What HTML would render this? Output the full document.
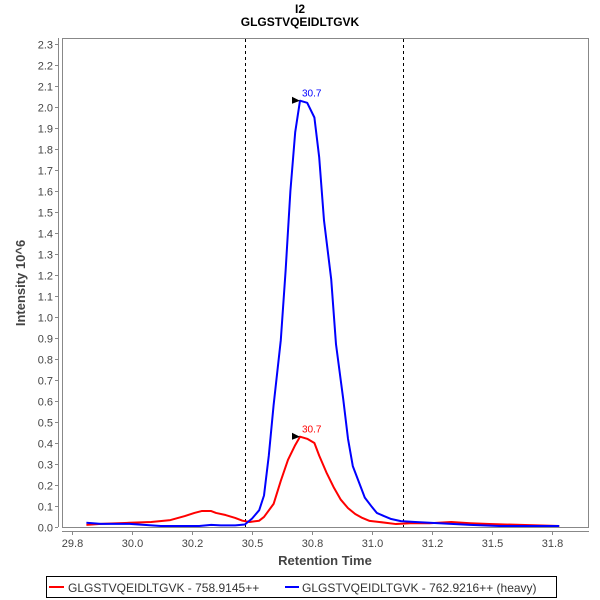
<!DOCTYPE html>
<html><head><meta charset="utf-8"><style>
body{margin:0;background:#fff;font-family:"Liberation Sans","DejaVu Sans",sans-serif}
svg{display:block}
</style></head><body>
<svg id="chart" width="600" height="600" viewBox="0 0 600 600">
<rect width="600" height="600" fill="#fff"/>
<text x="300" y="13" text-anchor="middle" font-size="12" font-weight="bold">I2</text>
<text x="300" y="26" text-anchor="middle" font-size="12" font-weight="bold">GLGSTVQEIDLTGVK</text>
<rect x="62.5" y="38.5" width="526" height="489" fill="#fff" stroke="#888"/>
<g id="axes"></g>
<g id="series"></g>
<text x="325" y="565" text-anchor="middle" font-size="13" font-weight="bold" fill="#444">Retention Time</text>
<text transform="translate(25,283) rotate(-90)" text-anchor="middle" font-size="13" font-weight="bold" fill="#444">Intensity 10^6</text>
<g>
<rect x="46.5" y="576.5" width="510" height="21" fill="#fff" stroke="#000"/>
<g>
<line x1="49" y1="587" x2="64" y2="587" stroke="#f00" stroke-width="2"/>
<text x="68" y="592" font-size="12" fill="#333">GLGSTVQEIDLTGVK - 758.9145++</text></g>
<g>
<line x1="285" y1="587" x2="299" y2="587" stroke="#00f" stroke-width="2"/>
<text x="302" y="592" font-size="12" fill="#333">GLGSTVQEIDLTGVK - 762.9216++ (heavy)</text></g>
</g>
</svg>
<script>
const xTicks=[29.75,30.0,30.25,30.5,30.75,31.0,31.25,31.5,31.75];
const yTicks=[0,0.1,0.2,0.3,0.4,0.5,0.6,0.7,0.8,0.9,1.0,1.1,1.2,1.3,1.4,1.5,1.6,1.7,1.8,1.9,2.0,2.1,2.2,2.3];
const boundaries=[30.47,31.13];
const heavyTimes=[29.81,29.87,29.99,30.12,30.28,30.33,30.37,30.43,30.47,30.50,30.53,30.55,30.57,30.59,30.62,30.64,30.66,30.68,30.70,30.73,30.76,30.78,30.80,30.83,30.85,30.88,30.90,30.92,30.95,30.97,31.00,31.02,31.05,31.08,31.12,31.18,31.24,31.33,31.41,31.53,31.78];
const heavyValues=[0.02,0.015,0.015,0.005,0.005,0.01,0.008,0.008,0.012,0.04,0.08,0.15,0.34,0.58,0.89,1.22,1.6,1.88,2.03,2.02,1.95,1.76,1.46,1.18,0.87,0.61,0.42,0.29,0.2,0.14,0.095,0.067,0.052,0.038,0.028,0.024,0.02,0.015,0.01,0.005,0.005];
const lightTimes=[29.81,29.87,29.99,30.08,30.16,30.22,30.26,30.29,30.33,30.35,30.39,30.43,30.46,30.49,30.53,30.55,30.59,30.62,30.65,30.68,30.70,30.73,30.76,30.78,30.81,30.84,30.87,30.90,30.93,30.96,30.99,31.03,31.10,31.16,31.24,31.33,31.41,31.49,31.62,31.78];
const lightValues=[0.01,0.015,0.02,0.024,0.033,0.052,0.067,0.076,0.076,0.067,0.057,0.043,0.03,0.024,0.03,0.048,0.11,0.22,0.32,0.39,0.43,0.42,0.4,0.34,0.26,0.19,0.13,0.09,0.062,0.043,0.029,0.024,0.014,0.018,0.018,0.024,0.018,0.014,0.01,0.005];
const peakLabels=["30.7","30.7"];
const NS="http://www.w3.org/2000/svg";
const X=t=>132+(t-30.0)*240;
const Y=v=>527-v*210;
function halfEven(v){const s=v*10,f=Math.floor(s),d=s-f;let r;if(Math.abs(d-0.5)<1e-9)r=(f%2===0)?f:f+1;else r=Math.round(s);return (r/10).toFixed(1);}
function mk(tag,attrs,parent){const e=document.createElementNS(NS,tag);for(const k in attrs)e.setAttribute(k,attrs[k]);parent.appendChild(e);return e;}
const axes=document.getElementById('axes'),ser=document.getElementById('series');
const ya=mk('line',{x1:58.5,y1:38,x2:58.5,y2:527,stroke:'#888'},axes);


const xa=mk('line',{x1:62,y1:531.5,x2:589,y2:531.5,stroke:'#888'},axes);


yTicks.forEach(v=>{const y=Math.round(Y(v))+0.5;
mk('line',{x1:55,y1:y,x2:58,y2:y,stroke:'#888'},axes);
const t=mk('text',{x:53,y:y+4,'text-anchor':'end','font-size':11,fill:'#444'},axes);t.textContent=v.toFixed(1);

});
xTicks.forEach(v=>{const x=Math.round(X(v))+0.5;
mk('line',{x1:x,y1:532,x2:x,y2:535,stroke:'#888'},axes);
const t=mk('text',{x:x,y:547,'text-anchor':'middle','font-size':11,fill:'#444'},axes);t.textContent=halfEven(v);

});
boundaries.forEach(b=>{const x=Math.round(X(b))+0.5;
const l=mk('line',{x1:x,y1:39,x2:x,y2:527,stroke:'#000','stroke-dasharray':'3,3'},axes);

});
function series(ts,vs,color,name,lbl){
const p=mk('polyline',{points:ts.map((t,i)=>X(t)+','+Y(vs[i])).join(' '),fill:'none',stroke:color,'stroke-width':2,'stroke-linejoin':'round'},ser);


let mi=0;vs.forEach((v,i)=>{if(v>vs[mi])mi=i;});
const px=X(ts[mi]),py=Y(vs[mi]);
const a=mk('polygon',{points:`${px-8},${py-4} ${px},${py} ${px-8},${py+3}`,fill:'#000'},ser);


const t=mk('text',{x:px+2,y:py-4,'font-size':10,fill:color},ser);t.textContent=lbl;

}
series(lightTimes,lightValues,'#f00','light-series',peakLabels[0]);
series(heavyTimes,heavyValues,'#00f','heavy-series',peakLabels[1]);
</script>
</body></html>
